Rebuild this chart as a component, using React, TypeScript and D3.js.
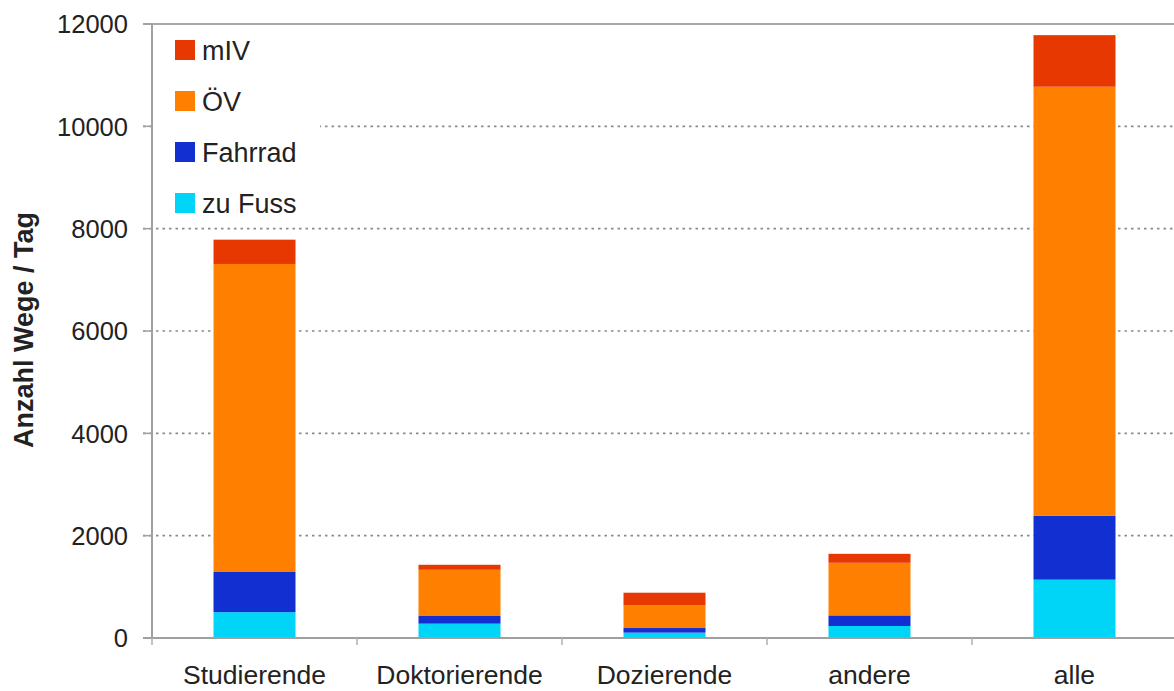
import React from "react";
import * as d3 from "d3";

const categories = ["Studierende", "Doktorierende", "Dozierende", "andere", "alle"];
const seriesNames = ["zu Fuss", "Fahrrad", "ÖV", "mIV"];
const zuFuss = [505, 280, 105, 235, 1140];
const fahrrad = [785, 160, 90, 207, 1252];
const oev = [6020, 893, 442, 1028, 8382];
const miv = [475, 98, 248, 175, 1008];
const yTicks = [0, 2000, 4000, 6000, 8000, 10000, 12000];
const colors = ["#00D4F7", "#1230D2", "#FF8000", "#E63800"];

const W = 1174;
const H = 691;
const left = 152;
const right = 1177;
const bottom = 638;
const top = 24;

export default function App() {
  const x = d3.scaleBand<string>().domain(categories).range([left, right]).paddingInner(0.6).paddingOuter(0.3);
  const y = d3.scaleLinear().domain([0, 12000]).range([bottom, top]);
  const table = categories.map((c, i) => ({
    cat: c,
    "zu Fuss": zuFuss[i],
    Fahrrad: fahrrad[i],
    "ÖV": oev[i],
    mIV: miv[i],
  }));
  const stacked = d3.stack<any>().keys(seriesNames)(table);
  const step = x.step();
  const font = "'Liberation Sans', Arial, Helvetica, sans-serif";
  const legendOrder = [3, 2, 1, 0];

  return (
    <svg width={W} height={H} style={{ position: "absolute", left: 0, top: 0, background: "#fff" }} fontFamily={font}>
      {/* gridlines */}
      {yTicks.filter((t) => t > 0 && t < 12000).map((t) => (
        <line key={t} x1={left - 9} x2={W} y1={y(t)} y2={y(t)} stroke="#8a8a8a" strokeWidth={1.6} strokeDasharray="2.5,4" />
      ))}
      <line x1={left - 9} x2={W} y1={y(12000)} y2={y(12000)} stroke="#a8a8a8" strokeWidth={2} />
      {/* bars */}
      {stacked.map((s, si) =>
        s.map((d, i) => (
          <rect
            key={si + "-" + i}
            x={x(categories[i])}
            width={x.bandwidth()}
            y={y(d[1])}
            height={y(d[0]) - y(d[1])}
            fill={colors[si]}
          />
        ))
      )}
      {/* axes */}
      <line x1={left} x2={left} y1={y(12000)} y2={bottom} stroke="#a0a0a0" strokeWidth={2} />
      <line x1={left - 9} x2={W} y1={bottom} y2={bottom} stroke="#a0a0a0" strokeWidth={2} />
      {yTicks.map((t) => (
        <line key={"tk" + t} x1={left - 9} x2={left} y1={y(t)} y2={y(t)} stroke="#a0a0a0" strokeWidth={1.5} />
      ))}
      {categories.map((c, i) => (
        <line key={"xt" + i} x1={left + step * i} x2={left + step * i} y1={bottom} y2={bottom + 7} stroke="#b0b0b0" strokeWidth={1.5} />
      ))}
      {yTicks.map((t) => (
        <text key={"yl" + t} x={128} y={y(t)} dy="0.36em" textAnchor="end" fontSize={25.5} fill="#222">
          {t}
        </text>
      ))}
      {categories.map((c) => (
        <text key={"xl" + c} x={(x(c) as number) + x.bandwidth() / 2} y={684} textAnchor="middle" fontSize={26.5} fill="#222">
          {c}
        </text>
      ))}
      <text transform={`translate(33,330) rotate(-90)`} textAnchor="middle" fontSize={27} fontWeight="bold" fill="#222">
        Anzahl Wege / Tag
      </text>
      {/* legend */}
      <rect x={155} y={30} width={165} height={195} fill="#fff" />
      {legendOrder.map((si, k) => (
        <g key={"lg" + si} transform={`translate(175,${40 + k * 51})`}>
          <rect width={20} height={20} fill={colors[si]} />
          <text x={27} y={10} dy="0.36em" fontSize={27} fill="#222">
            {seriesNames[si]}
          </text>
        </g>
      ))}
    </svg>
  );
}
